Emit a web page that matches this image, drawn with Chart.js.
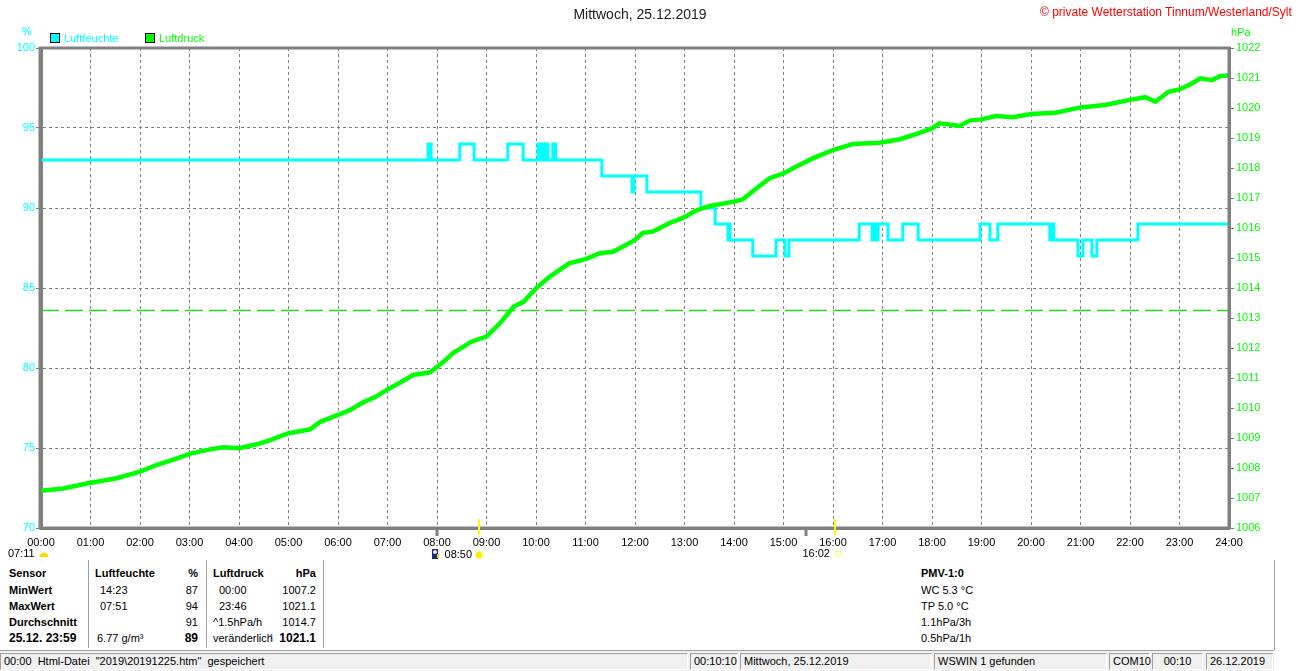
<!DOCTYPE html>
<html>
<head>
<meta charset="utf-8">
<script src="https://cdn.jsdelivr.net/npm/chart.js@4.4.0/dist/chart.umd.min.js"></script>
<style>
  body { margin: 0; background: #fff; font-family: "Liberation Sans", Arial, sans-serif; font-size: 11px; color: #000; }
  #wrap { position: relative; width: 1310px; height: 671px; overflow: hidden; }
  canvas { position: absolute; left: 0; top: 0; }
  .t { position: absolute; white-space: nowrap; line-height: 14px; }
  .b { font-weight: bold; }
  .r { text-align: right; }
  .sep { position: absolute; top: 560px; height: 88px; width: 1px; background: #a0a0a0; }
  .box { position: absolute; width: 8px; height: 8px; border: 1px solid #000; }
  #status { position: absolute; left: 0; top: 650px; width: 1274px; height: 21px; background: #f0f0f0; border-top: 1px solid #a0a0a0; }
  .cell { position: absolute; top: 2px; height: 17px; border-left: 1px solid #a0a0a0; border-top: 1px solid #a0a0a0; border-right: 1px solid #fff; border-bottom: 1px solid #fff; box-sizing: border-box; line-height: 15px; padding: 0 3px; white-space: nowrap; font-size: 11px; }
</style>
</head>
<body>
<div id="wrap">
  <canvas id="chart" width="1310" height="560"></canvas>

  <div class="t" style="left:0;width:1280px;top:7px;text-align:center;font-size:14px;color:#202020;">Mittwoch, 25.12.2019</div>
  <div class="t" style="left:1040px;top:5px;color:#ff0000;font-size:12px;">© private Wetterstation Tinnum/Westerland/Sylt</div>

  <div class="t" style="left:22px;top:24px;color:#00ffff;">%</div>
  <div class="t" style="left:1231px;top:25px;color:#00ff00;">hPa</div>

  <div class="box" style="left:50px;top:33px;background:#00ffff;"></div>
  <div class="t" style="left:64px;top:31px;color:#00ffff;">Luftfeuchte</div>
  <div class="box" style="left:145px;top:33px;background:#00ff00;"></div>
  <div class="t" style="left:159px;top:31px;color:#00ff00;">Luftdruck</div>

  <!-- table -->
  <div class="sep" style="left:88px;"></div>
  <div class="sep" style="left:206px;"></div>
  <div class="sep" style="left:323px;"></div>
  <div class="sep" style="left:1274px;height:90px;"></div>

  <div class="t b" style="left:9px;top:566px;">Sensor</div>
  <div class="t b" style="left:9px;top:583px;">MinWert</div>
  <div class="t b" style="left:9px;top:599px;">MaxWert</div>
  <div class="t b" style="left:9px;top:615px;">Durchschnitt</div>
  <div class="t b" style="left:9px;top:631px;font-size:12px;">25.12. 23:59</div>

  <div class="t b" style="left:95px;top:566px;">Luftfeuchte</div>
  <div class="t" style="left:100px;top:583px;">14:23</div>
  <div class="t" style="left:100px;top:599px;">07:51</div>
  <div class="t" style="left:97px;top:631px;">6.77 g/m³</div>
  <div class="t b r" style="left:150px;width:48px;top:566px;">%</div>
  <div class="t r" style="left:150px;width:48px;top:583px;">87</div>
  <div class="t r" style="left:150px;width:48px;top:599px;">94</div>
  <div class="t r" style="left:150px;width:48px;top:615px;">91</div>
  <div class="t b r" style="left:150px;width:48px;top:631px;font-size:12px;">89</div>

  <div class="t b" style="left:213px;top:566px;">Luftdruck</div>
  <div class="t" style="left:219px;top:583px;">00:00</div>
  <div class="t" style="left:219px;top:599px;">23:46</div>
  <div class="t" style="left:213px;top:615px;">^1.5hPa/h</div>
  <div class="t" style="left:213px;top:631px;">veränderlich</div>
  <div class="t b" style="left:268px;top:630px;font-size:12px;color:#102050;">↑</div>
  <div class="t b r" style="left:260px;width:56px;top:566px;">hPa</div>
  <div class="t r" style="left:260px;width:56px;top:583px;">1007.2</div>
  <div class="t r" style="left:260px;width:56px;top:599px;">1021.1</div>
  <div class="t r" style="left:260px;width:56px;top:615px;">1014.7</div>
  <div class="t b r" style="left:260px;width:56px;top:631px;font-size:12px;">1021.1</div>

  <div class="t b" style="left:921px;top:566px;">PMV-1:0</div>
  <div class="t" style="left:921px;top:583px;">WC 5.3 °C</div>
  <div class="t" style="left:921px;top:599px;">TP 5.0 °C</div>
  <div class="t" style="left:921px;top:615px;">1.1hPa/3h</div>
  <div class="t" style="left:921px;top:631px;">0.5hPa/1h</div>

  <div id="status">
    <div class="cell" style="left:0;width:688px;">00:00&nbsp; Html-Datei&nbsp; "2019\20191225.htm"&nbsp; gespeichert</div>
    <div class="cell" style="left:690px;width:48px;text-align:right;">00:10:10</div>
    <div class="cell" style="left:740px;width:192px;">Mittwoch, 25.12.2019</div>
    <div class="cell" style="left:934px;width:173px;">WSWIN 1 gefunden</div>
    <div class="cell" style="left:1109px;width:41px;">COM10</div>
    <div class="cell" style="left:1152px;width:51px;text-align:center;">00:10</div>
    <div class="cell" style="left:1206px;width:67px;">26.12.2019</div>
  </div>
</div>

<script>
// Luftfeuchte (%), Stufenwerte: ab Zeitpunkt gilt der Wert
const humTimes = [0, 7.82, 7.88, 8.46, 8.75, 9.43, 9.74, 10.04, 10.10, 10.13, 10.18, 10.20, 10.24, 10.34, 10.40,
  11.33, 11.94, 11.98, 12.24, 13.33, 13.62, 13.88, 13.90, 13.92, 14.38, 14.85, 15.03, 15.11,
  16.53, 16.79, 16.83, 16.87, 16.91, 17.11, 17.41, 17.72, 18.97, 19.17, 19.33,
  20.38, 20.42, 20.46, 20.95, 21.05, 21.23, 21.33, 22.16, 24];
const humValues = [93, 94, 93, 94, 93, 94, 93, 94, 93, 94, 93, 94, 93, 94, 93,
  92, 91, 92, 91, 90, 89, 88, 89, 88, 87, 88, 87, 88,
  89, 88, 89, 88, 89, 88, 89, 88, 89, 88, 89,
  88, 89, 88, 87, 88, 87, 88, 89, 89];

// Luftdruck (hPa)
const presTimes = [0, 0.45, 1.0, 1.33, 1.53, 2.0, 2.33, 2.66, 3.0, 3.41, 3.68, 4.0, 4.36, 4.63,
  5.0, 5.17, 5.44, 5.64, 6.0, 6.24, 6.5, 6.77, 7.0, 7.25, 7.52, 7.86, 7.96, 8.13, 8.33, 8.53, 8.69,
  9.0, 9.28, 9.55, 9.75, 10.0, 10.28, 10.67, 11.0, 11.29, 11.56, 12.0, 12.16, 12.36, 12.69,
  13.0, 13.23, 13.5, 14.0, 14.18, 14.45, 14.72, 15.0, 15.25, 15.59, 16.0, 16.4, 16.95,
  17.35, 17.62, 18.0, 18.15, 18.56, 18.76, 19.0, 19.29, 19.63, 20.0, 20.5, 21.0, 21.5,
  22.0, 22.31, 22.51, 22.78, 23.0, 23.25, 23.42, 23.66, 23.82, 24.0];
const presValues = [1007.24, 1007.32, 1007.51, 1007.6, 1007.66, 1007.88, 1008.1, 1008.27, 1008.47, 1008.62, 1008.69, 1008.66, 1008.79, 1008.93,
  1009.16, 1009.21, 1009.29, 1009.54, 1009.77, 1009.93, 1010.18, 1010.38, 1010.62, 1010.84, 1011.1, 1011.19, 1011.32, 1011.54, 1011.84, 1012.04, 1012.21,
  1012.38, 1012.84, 1013.38, 1013.54, 1013.99, 1014.38, 1014.82, 1014.96, 1015.16, 1015.21, 1015.6, 1015.84, 1015.88, 1016.16,
  1016.36, 1016.58, 1016.73, 1016.88, 1016.96, 1017.32, 1017.66, 1017.82, 1018.04, 1018.32, 1018.6, 1018.8, 1018.84,
  1018.96, 1019.1, 1019.32, 1019.49, 1019.4, 1019.58, 1019.62, 1019.73, 1019.69, 1019.8, 1019.84, 1020.02, 1020.1,
  1020.27, 1020.36, 1020.21, 1020.54, 1020.62, 1020.82, 1020.99, 1020.93, 1021.07, 1021.08];

// Normaldruck
const refPressure = 1013.25;

// Achsen
const hourMin = 0, hourMax = 24;
const humMin = 70, humMax = 100, humStep = 5;
const presMin = 1006, presMax = 1022, presStep = 1;

// Sonne / Mond Markierungen (Stunden)
const sunTimes = [8.85, 16.04];
const sunLabels = ['08:50', '16:02'];
const moonTimes = [8.0, 15.45];
const sunriseLabel = '07:11';

function pad(n) { return (n < 10 ? '0' : '') + n; }

const FONT = '"Liberation Sans", Arial, sans-serif';

const decor = {
  id: 'decor',
  afterDraw(chart) {
    const ctx = chart.ctx, a = chart.chartArea, x = chart.scales.x;
    ctx.save();
    // Rahmen
    ctx.strokeStyle = '#808080';
    ctx.lineWidth = 3;
    ctx.strokeRect(a.left - 1, a.top, a.right - a.left + 1, a.bottom - a.top);

    // Mond-Marken
    ctx.lineWidth = 3;
    moonTimes.forEach(t => {
      const px = Math.round(x.getPixelForValue(t));
      ctx.beginPath(); ctx.moveTo(px, a.bottom); ctx.lineTo(px, a.bottom + 8); ctx.stroke();
    });
    // Sonnen-Marken
    ctx.strokeStyle = '#ffff00';
    ctx.lineWidth = 2;
    sunTimes.forEach(t => {
      const px = Math.round(x.getPixelForValue(t));
      ctx.beginPath(); ctx.moveTo(px, a.bottom - 9); ctx.lineTo(px, a.bottom + 7); ctx.stroke();
    });

    ctx.font = '11px ' + FONT;
    ctx.fillStyle = '#000';
    ctx.textBaseline = 'middle';
    ctx.textAlign = 'left';
    ctx.fillText(sunriseLabel, 8, a.bottom + 26);
    // Sonnenaufgang Symbol
    ctx.fillStyle = '#ffd800';
    ctx.beginPath(); ctx.arc(44, a.bottom + 29, 4.5, Math.PI, 0); ctx.fill();

    ctx.textAlign = 'right';
    sunLabels.forEach((s, i) => {
      const px = x.getPixelForValue(sunTimes[i]);
      ctx.fillStyle = '#000';
      ctx.fillText(s, px - (i === 0 ? 7 : 5), a.bottom + (i === 0 ? 27 : 26));
    });
    // Sonne
    let px = x.getPixelForValue(sunTimes[0]);
    ctx.fillStyle = '#ffee00';
    ctx.beginPath(); ctx.arc(px, a.bottom + 27, 3.5, 0, Math.PI * 2); ctx.fill();
    ctx.strokeStyle = '#fff59a'; ctx.lineWidth = 1;
    for (let k = 0; k < 8; k++) {
      const ang = k * Math.PI / 4;
      ctx.beginPath();
      ctx.moveTo(px + Math.cos(ang) * 4.5, a.bottom + 27 + Math.sin(ang) * 4.5);
      ctx.lineTo(px + Math.cos(ang) * 6.5, a.bottom + 27 + Math.sin(ang) * 6.5);
      ctx.stroke();
    }
    // Sonnenuntergang Symbol
    px = x.getPixelForValue(sunTimes[1]);
    ctx.strokeStyle = '#ffff60';
    ctx.strokeRect(Math.round(px) + 0.5, a.bottom + 23.5, 5, 5);
    // Mond
    px = Math.round(x.getPixelForValue(moonTimes[0]));
    ctx.fillStyle = '#1a2a78';
    ctx.fillRect(px - 5, a.bottom + 21, 6, 10);
    ctx.fillStyle = '#e8e8ff';
    ctx.beginPath(); ctx.arc(px - 2, a.bottom + 24, 2, 0, Math.PI * 2); ctx.fill();
    ctx.fillStyle = '#ffd800';
    ctx.fillRect(px, a.bottom + 26, 2, 4);
    ctx.restore();
  }
};

const ctx = document.getElementById('chart').getContext('2d');
new Chart(ctx, {
  type: 'line',
  data: {
    datasets: [
      {
        label: 'Luftfeuchte',
        data: humTimes.map((t, i) => ({ x: t, y: humValues[i] })),
        yAxisID: 'yL',
        borderColor: '#00ffff',
        borderWidth: 3,
        stepped: 'before',
        pointRadius: 0,
        order: 2
      },
      {
        label: 'Luftdruck',
        data: presTimes.map((t, i) => ({ x: t, y: presValues[i] })),
        yAxisID: 'yR',
        borderColor: '#00ff00',
        borderWidth: 4.5,
        tension: 0,
        pointRadius: 0,
        order: 1
      },
      {
        label: 'Normaldruck',
        data: [{ x: hourMin, y: refPressure }, { x: hourMax, y: refPressure }],
        yAxisID: 'yR',
        borderColor: '#22dd22',
        borderWidth: 1.5,
        borderDash: [18, 6],
        pointRadius: 0,
        order: 3
      }
    ]
  },
  options: {
    responsive: false,
    animation: false,
    layout: { padding: { top: 48 } },
    plugins: { legend: { display: false }, title: { display: false }, tooltip: { enabled: false } },
    scales: {
      x: {
        type: 'linear',
        min: hourMin, max: hourMax,
        afterFit: s => { s.height = 32; },
        ticks: {
          stepSize: 1, autoSkip: false, maxRotation: 0, padding: 8,
          color: '#000', font: { family: FONT, size: 11 },
          callback: v => pad(v) + ':00'
        },
        grid: { color: '#808080', lineWidth: 1, drawTicks: false },
        border: { display: true, color: '#808080', width: 3, dash: [3, 3] }
      },
      yL: {
        type: 'linear', position: 'left',
        min: humMin, max: humMax,
        afterFit: s => { s.width = 41; },
        ticks: { stepSize: humStep, padding: 1, color: '#00ffff', font: { family: FONT, size: 11 }, callback: v => String(v) },
        grid: { color: '#808080', lineWidth: 1, tickLength: 5, tickColor: '#808080', tickBorderDash: [] },
        border: { display: true, color: '#808080', width: 3, dash: [3, 3] }
      },
      yR: {
        type: 'linear', position: 'right',
        min: presMin, max: presMax,
        afterFit: s => { s.width = 81; },
        ticks: { stepSize: presStep, padding: 2, color: '#00ff00', font: { family: FONT, size: 11 }, callback: v => String(v) },
        grid: { drawOnChartArea: false, tickLength: 5, tickColor: '#808080' },
        border: { display: true, color: '#808080', width: 3 }
      }
    }
  },
  plugins: [decor]
});
</script>
</body>
</html>
